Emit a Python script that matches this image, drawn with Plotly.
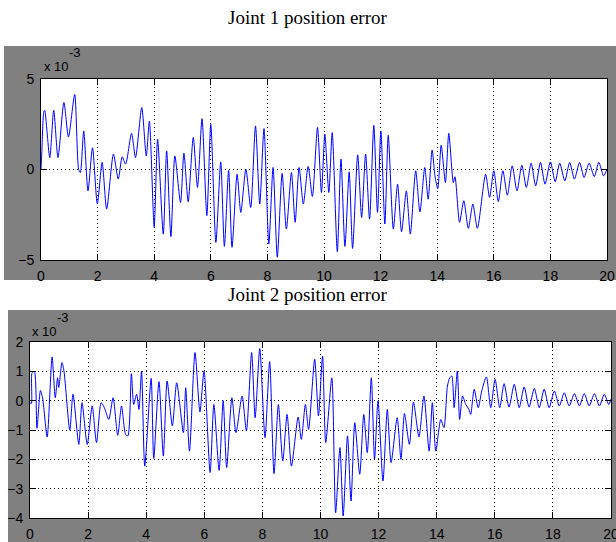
import plotly.graph_objects as go

# ---------------- data (values in units of 1e-3) ----------------
joint1_time = [0, 0.03, 0.10, 0.13, 0.31, 0.45, 0.60, 0.81, 0.97, 1.19, 1.33, 1.39, 1.51, 1.66, 1.82, 1.99,
               2.16, 2.32, 2.56, 2.73, 2.87, 2.99, 3.20, 3.34, 3.56, 3.72, 3.83, 4.00, 4.12, 4.32, 4.44, 4.59,
               4.73, 4.93, 5.05, 5.20, 5.38, 5.53, 5.69, 5.86, 6.00, 6.18, 6.35, 6.48, 6.63, 6.75, 6.93, 7.06,
               7.24, 7.41, 7.58, 7.73, 7.88, 8.05, 8.20, 8.35, 8.52, 8.67, 8.85, 8.98, 9.12, 9.27, 9.44, 9.59,
               9.77, 9.91, 10.03, 10.17, 10.29, 10.47, 10.60, 10.74, 10.89, 11.01, 11.19, 11.33, 11.47, 11.61,
               11.76, 11.89, 12.01, 12.15, 12.27, 12.45, 12.60, 12.74, 12.91, 13.05, 13.24, 13.39, 13.56, 13.68,
               13.82, 13.92, 14.02, 14.14, 14.29, 14.41, 14.57, 14.63, 14.79, 14.94, 15.10, 15.26, 15.42, 15.71,
               15.85, 16.00, 16.16, 16.32, 16.48, 16.65, 16.82, 16.99, 17.15, 17.32, 17.48, 17.65, 17.81, 18.00,
               18.17, 18.33, 18.51, 18.68, 18.85, 19.03, 19.19, 19.37, 19.55, 19.71, 19.88, 20.0]
joint1_error = [0, 1.0, 3.2, 3.27, 0.66, 3.27, 0.66, 3.7, 1.8, 4.15, 0.0, -0.17, 2.13, -1.18, 1.2, -1.9,
                0.39, -2.19, 0.85, -0.53, 0.7, 0.3, 2.0, 0.66, 3.42, 0.75, 2.68, -3.2, 1.67, -3.57, 1.03, -3.71,
                0.75, -1.82, 0.9, -1.78, 1.77, -0.99, 2.81, -2.55, 2.5, -4.03, 0.42, -4.25, -0.05, -4.3, -0.26, -2.37,
                0.02, -2.1, 2.41, -1.91, 2.26, -4.12, 0.11, -4.85, -0.22, -3.29, -0.17, -2.92, 0.11, -1.91, 0.17, -1.49,
                2.32, -1.27, 1.95, -1.27, 2.04, -4.54, 0.57, -4.25, -0.13, -4.36, 0.81, -2.65, 0.85, -2.74,
                2.44, -2.37, 2.13, -3.01, 1.89, -3.29, -0.81, -3.44, -1.18, -3.57, -0.07, -2.35, 0.11, -1.64,
                1.08, -0.35, -1.05, 1.34, -0.72, 2.0, -0.72, -0.4, -2.92, -1.73, -3.25, -1.91, -3.25, -0.26,
                -1.54, -0.07, -1.78, -0.07, -1.42, 0.2, -1.18, 0.24, -0.99, 0.35, -0.9, 0.39, -0.81, 0.42,
                -0.68, 0.35, -0.63, 0.39, -0.53, 0.39, -0.44, 0.35, -0.39, 0.39, -0.35, 0.02]

joint2_time = [0, 0.05, 0.07, 0.15, 0.24, 0.36, 0.44, 0.59, 0.76, 0.87, 0.95, 0.99, 1.10, 1.17, 1.37, 1.48,
               1.68, 1.79, 1.97, 2.14, 2.29, 2.45, 2.56, 2.71, 2.86, 3.02, 3.15, 3.29, 3.37, 3.49, 3.57, 3.67,
               3.75, 3.84, 3.95, 4.17, 4.26, 4.44, 4.59, 4.72, 4.90, 5.05, 5.28, 5.36, 5.49, 5.68, 5.85, 5.99,
               6.20, 6.33, 6.51, 6.65, 6.77, 6.95, 7.09, 7.30, 7.45, 7.63, 7.75, 7.91, 8.09, 8.25, 8.40, 8.55,
               8.70, 8.85, 9.00, 9.23, 9.34, 9.48, 9.59, 9.80, 9.93, 10.07, 10.18, 10.39, 10.52, 10.67, 10.78,
               10.93, 11.05, 11.18, 11.35, 11.49, 11.61, 11.75, 11.86, 11.98, 12.15, 12.30, 12.43, 12.64, 12.77,
               12.89, 13.06, 13.20, 13.39, 13.56, 13.74, 13.85, 13.97, 14.14, 14.25, 14.37, 14.45, 14.52, 14.60,
               14.71, 14.79, 14.89, 15.00, 15.11, 15.17, 15.29, 15.43, 15.55, 15.71, 15.86, 16.01, 16.17, 16.32,
               16.49, 16.67, 16.84, 17.01, 17.18, 17.36, 17.53, 17.70, 17.87, 18.05, 18.22, 18.39, 18.56, 18.74,
               18.91, 19.08, 19.25, 19.43, 19.60, 19.77, 19.92, 20.0]
joint2_error = [-0.07, -0.1, 0.95, 1.0, -0.94, 0.35, 0.05, -1.24, 1.49, 0.1, 0.78, 0.45, 1.3, 1.0, -1.01, 0.22,
                -1.49, -0.07, -1.49, -0.18, -1.43, -0.07, -0.24, -0.64, 0.1, -1.18, -0.18, -1.15, -1.2, 0.92, -0.13, 0.22,
                -0.3, 1.01, -2.23, 0.76, -1.97, 0.65, -1.89, 0.67, -0.86, 0.61, -1.09, 0.44, -1.72, 1.64, -0.38, 1.01,
                -2.45, -0.13, -2.38, 0.0, -2.28, 0.1, -1.09, 0.16, -1.03, 1.64, -0.58, 1.78, -1.26, 1.33, -2.49, -0.13,
                -2.06, -0.47, -2.23, -0.56, -1.32, -0.13, -0.98, 1.41, -0.52, 1.52, -1.43, 0.78, -3.82, -1.6, -3.93,
                -1.2, -3.42, -0.75, -2.51, -0.47, -1.77, 0.78, -2.0, -0.01, -2.74, -0.3, -2.11, -0.58, -2.0,
                -0.44, -1.49, -0.05, -1.24, 0.16, -1.72, -0.07, -1.72, -0.64, -0.92, 0.5, 0.78, 0.84, -0.24,
                1.01, -0.64, 0.16, -0.13, -0.3, -0.47, 0.39, -0.24, 0.33, 0.81, -0.24, 0.73, -0.24, 0.58,
                -0.22, 0.56, -0.24, 0.47, -0.22, 0.42, -0.24, 0.39, -0.24, 0.33, -0.18, 0.27, -0.18, 0.24,
                -0.18, 0.24, -0.18, 0.24, -0.18, 0.22, -0.13, 0.05]

x_ticks = [0, 2, 4, 6, 8, 10, 12, 14, 16, 18, 20]
y1_ticks = [-5, 0, 5]
y2_ticks = [-4, -3, -2, -1, 0, 1, 2]
titles = ["Joint 1 position error", "Joint 2 position error"]
exponent_text = ["x 10", "-3"]

# ---------------- figure ----------------
W, H = 616, 542
fig = go.Figure()
line_style = dict(color="#0000ff", width=1, shape="spline", smoothing=0.7)
fig.add_trace(go.Scatter(x=joint1_time, y=joint1_error, mode="lines",
                         line=line_style, xaxis="x", yaxis="y"))
fig.add_trace(go.Scatter(x=joint2_time, y=joint2_error, mode="lines",
                         line=line_style, xaxis="x2", yaxis="y2"))

def px(x):
    return x / W

def py(y):
    return 1 - y / H

tick_font = dict(family="Liberation Sans Narrow, Liberation Sans, Arial, sans-serif", size=14, color="black")
axis_common = dict(showline=True, linecolor="black", linewidth=1, mirror="ticks",
                   ticks="inside", ticklen=6, tickcolor="black", tickwidth=1,
                   showgrid=True, gridcolor="#111111", gridwidth=1, griddash="1px,3px",
                   zeroline=False, tickfont=tick_font, ticklabelstandoff=3,
                   ticklabeloverflow="allow")

P1 = dict(l=41, r=607, t=79, b=260)
P2 = dict(l=30, r=611, t=342, b=518)

fig.update_layout(
    width=W, height=H, margin=dict(l=0, r=0, t=0, b=0, autoexpand=False),
    paper_bgcolor="white", plot_bgcolor="white", showlegend=False,
    xaxis=dict(domain=[px(P1["l"]), px(P1["r"])], range=[0, 20], tickvals=x_ticks, anchor="y", **axis_common),
    yaxis=dict(domain=[py(P1["b"]), py(P1["t"])], range=[-5, 5], tickvals=y1_ticks, anchor="x", **axis_common),
    xaxis2=dict(domain=[px(P2["l"]), px(P2["r"])], range=[0, 20], tickvals=x_ticks, anchor="y2", **axis_common),
    yaxis2=dict(domain=[py(P2["b"]), py(P2["t"])], range=[-4, 2], tickvals=y2_ticks, anchor="x2", **axis_common),
)

# gray figure backgrounds (MATLAB style) and white axes areas
fig.add_shape(type="rect", xref="paper", yref="paper", x0=px(4), x1=1, y0=py(280), y1=py(46),
              fillcolor="#808080", line=dict(width=0), layer="below")
fig.add_shape(type="rect", xref="paper", yref="paper", x0=px(8), x1=1, y0=0, y1=py(310),
              fillcolor="#808080", line=dict(width=0), layer="below")
for P in (P1, P2):
    fig.add_shape(type="rect", xref="paper", yref="paper", x0=px(P["l"]), x1=px(P["r"]),
                  y0=py(P["b"]), y1=py(P["t"]), fillcolor="white", line=dict(width=0), layer="below")

title_font = dict(family="Liberation Serif, Times New Roman, serif", size=19, color="black")
fig.add_annotation(text=titles[0], xref="paper", yref="paper", x=0.5, y=py(18),
                   xanchor="center", yanchor="middle", showarrow=False, font=title_font)
fig.add_annotation(text=titles[1], xref="paper", yref="paper", x=0.5, y=py(294),
                   xanchor="center", yanchor="middle", showarrow=False, font=title_font)

exp_font = dict(family="Liberation Sans Narrow, Liberation Sans, Arial, sans-serif", size=13, color="black")
for (xb, yb, xs, ys) in [(42, 66, 67, 52), (30, 331, 55, 317)]:
    fig.add_annotation(text=exponent_text[0], xref="paper", yref="paper", x=px(xb), y=py(yb),
                       xanchor="left", yanchor="middle", showarrow=False, font=exp_font)
    fig.add_annotation(text=exponent_text[1], xref="paper", yref="paper", x=px(xs), y=py(ys),
                       xanchor="left", yanchor="middle", showarrow=False, font=exp_font)

fig.write_html("out.html", config={"displayModeBar": False},
               post_script="document.body.style.margin='0';document.body.style.overflow='hidden';")
